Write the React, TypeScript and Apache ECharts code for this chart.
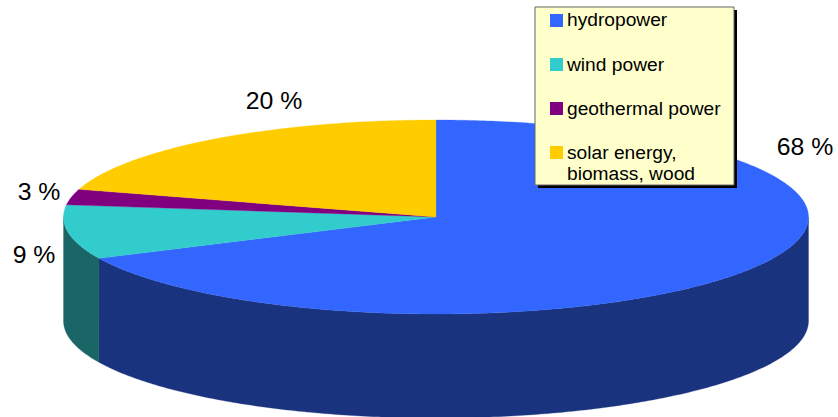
import React, { useEffect, useRef } from "react";
import * as echarts from "echarts";

const categories = ["hydropower", "wind power", "geothermal power", "solar energy,\nbiomass, wood"];
const shares = [68, 9, 2.6, 20.4];
const topColors = ["#3366FF", "#33CCCC", "#800080", "#FFCC00"];
const sideColors = ["#1A337F", "#1A6666", "#400040", "#806600"];
const FONT = '"Liberation Sans", Arial, sans-serif';

const CX = 436, CY = 217, RX = 372.5, RY = 97, DEPTH = 104;
const labelCentres = [[805, 146], [34, 254], [39, 191], [274, 100]];
const swatchTops = [14, 58, 102, 146];
const legendTextTops = [9, 54, 98, 142];

const rim = (deg: number, drop = 0) => {
  const a = (deg * Math.PI) / 180;
  return [CX + RX * Math.sin(a), CY - RY * Math.cos(a) + drop];
};
const arcPoints = (from: number, to: number, drop = 0) => {
  const n = Math.max(2, Math.ceil(Math.abs(to - from) * 1.5));
  return Array.from({ length: n + 1 }, (_, i) => rim(from + ((to - from) * i) / n, drop));
};

const sum = shares.reduce((s, v) => s + v, 0);
const spans = shares.map((v, i) => {
  const before = shares.slice(0, i).reduce((s, x) => s + x, 0);
  return [(before / sum) * 360, ((before + v) / sum) * 360];
});

const renderSlice = (_: any, api: any) => {
  const i = api.value(0);
  const [start, end] = spans[i];
  const children: any[] = [];
  const sideFrom = Math.max(start, 90);
  const sideTo = Math.min(end, 270);
  if (sideTo > sideFrom) {
    children.push({
      type: "polygon",
      shape: { points: [...arcPoints(sideFrom, sideTo), ...arcPoints(sideTo, sideFrom, DEPTH)] },
      style: { fill: sideColors[i], stroke: sideColors[i], lineWidth: 0.3 },
    });
  }
  children.push({
    type: "polygon",
    shape: { points: [[CX, CY], ...arcPoints(start, end)] },
    style: { fill: topColors[i], stroke: topColors[i], lineWidth: 0.3 },
  });
  return { type: "group", children };
};

export default function App() {
  const ref = useRef<HTMLDivElement>(null);
  useEffect(() => {
    document.body.style.margin = "0";
    const chart = echarts.init(ref.current!, null, { renderer: "svg" });
    const graphic: any[] = [
      ...shares.map((v, i) => ({
        type: "text",
        x: labelCentres[i][0],
        y: labelCentres[i][1],
        style: {
          text: `${Math.round(v)} %`,
          font: `24.8px ${FONT}`,
          fill: "#000",
          textAlign: "center",
          textVerticalAlign: "middle",
        },
      })),
      { type: "rect", shape: { x: 538, y: 10, width: 199, height: 178 }, style: { fill: "#000" } },
      {
        type: "rect",
        shape: { x: 535, y: 7, width: 199, height: 178 },
        style: { fill: "#FFFFCC", stroke: "#666", lineWidth: 1 },
      },
    ];
    categories.forEach((name, i) => {
      graphic.push({
        type: "rect",
        shape: { x: 550, y: swatchTops[i], width: 13, height: 13 },
        style: { fill: topColors[i] },
      });
      graphic.push({
        type: "text",
        x: 567,
        y: legendTextTops[i],
        style: { text: name, font: `19.2px ${FONT}`, lineHeight: 21, fill: "#000" },
      });
    });
    chart.setOption({
      animation: false,
      series: [
        {
          type: "custom",
          coordinateSystem: "none",
          silent: true,
          renderItem: renderSlice,
          data: shares.map((v, i) => [i, v]),
          z: 1,
        },
      ],
      graphic: { elements: graphic.map((g) => ({ ...g, z: 10 })) },
    });
    return () => chart.dispose();
  }, []);
  return <div ref={ref} style={{ width: 838, height: 417 }} />;
}
